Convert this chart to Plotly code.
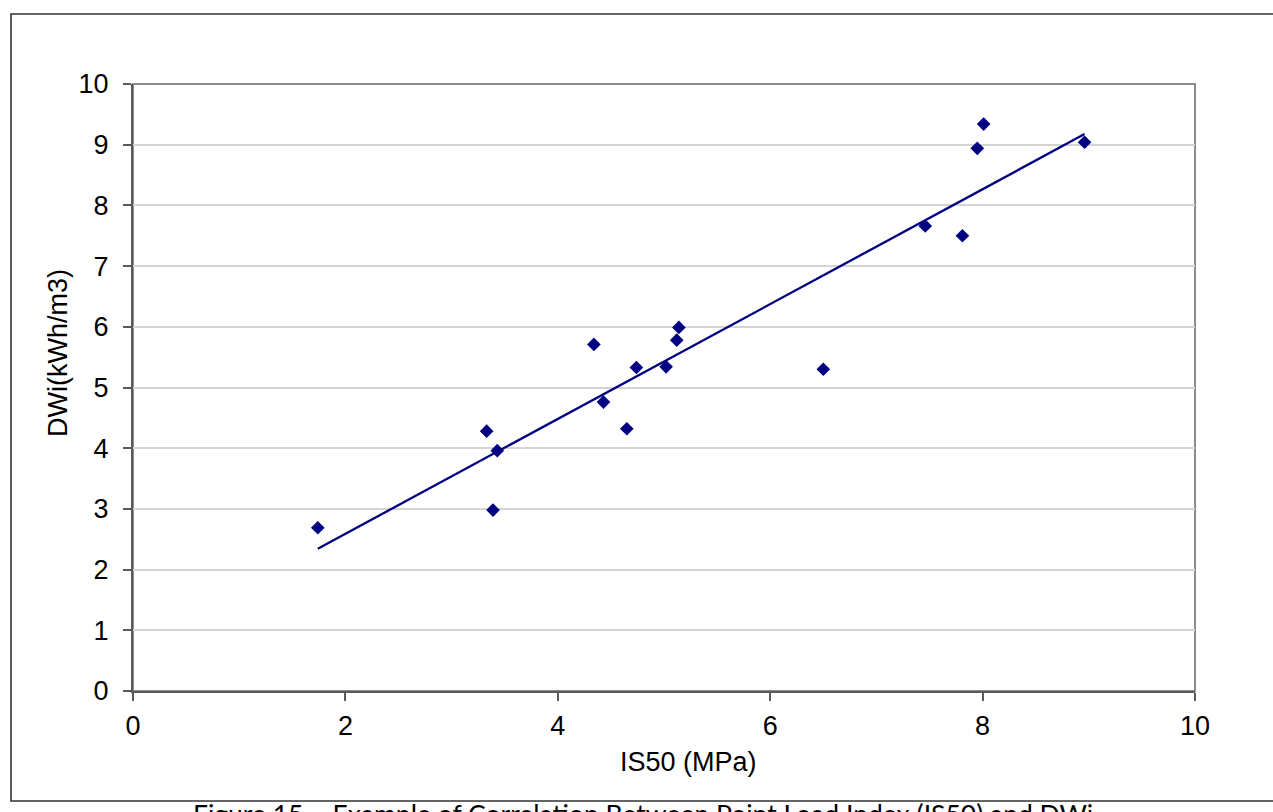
import numpy as np
import plotly.graph_objects as go

# Data
is50 = [1.74, 3.33, 3.39, 3.43, 4.34, 4.43, 4.65, 4.74, 5.02, 5.12, 5.14, 6.50, 7.46, 7.81, 7.95, 8.01, 8.96]
dwi = [2.69, 4.28, 2.98, 3.96, 5.71, 4.76, 4.32, 5.33, 5.34, 5.78, 5.99, 5.30, 7.66, 7.50, 8.94, 9.34, 9.04]

x_ticks = [0, 2, 4, 6, 8, 10]
y_ticks = [0, 1, 2, 3, 4, 5, 6, 7, 8, 9, 10]

x_title = "IS50 (MPa)"
y_title = "DWi(kWh/m3)"
caption = "Figure 15 – Example of Correlation Between Point Load Index (IS50) and DWi"

# Linear trendline (as in the Excel chart)
slope, intercept = np.polyfit(is50, dwi, 1)
trend_x = [min(is50), max(is50)]
trend_y = [slope * v + intercept for v in trend_x]

W, H = 1273, 812
L, R, T, B = 133, 78, 84, 121
PW, PH = W - L - R, H - T - B


def px(x):
    return (x - L) / PW


def py(y):
    return (H - B - y) / PH


NAVY = "#000080"
TICK_FONT = dict(family="Liberation Sans, Arial, sans-serif", size=27, color="#000000")

fig = go.Figure()
fig.add_trace(go.Scatter(
    x=is50, y=dwi, mode="markers",
    marker=dict(symbol="diamond", size=10.5, color=NAVY, line=dict(width=0)),
    showlegend=False, hoverinfo="skip",
))
fig.add_trace(go.Scatter(
    x=trend_x, y=trend_y, mode="lines",
    line=dict(color=NAVY, width=2.3),
    showlegend=False, hoverinfo="skip",
))

fig.update_layout(
    width=W, height=H,
    margin=dict(l=L, r=R, t=T, b=B, pad=0),
    paper_bgcolor="white", plot_bgcolor="white",
    showlegend=False,
    xaxis=dict(
        range=[0, 10], tickvals=x_ticks, ticktext=[str(v) for v in x_ticks],
        showgrid=False, zeroline=False,
        showline=True, linecolor="#595959", linewidth=2,
        ticks="outside", ticklen=8, tickwidth=2, tickcolor="#595959",
        tickfont=TICK_FONT, ticklabelstandoff=2,
    ),
    yaxis=dict(
        range=[0, 10], tickvals=y_ticks, ticktext=[str(v) for v in y_ticks],
        showgrid=True, gridcolor="#d4d4d4", gridwidth=1.5, zeroline=False,
        showline=True, linecolor="#595959", linewidth=2,
        ticks="outside", ticklen=8, tickwidth=2, tickcolor="#595959",
        tickfont=TICK_FONT, ticklabelstandoff=9,
    ),
    shapes=[
        # plot area frame (top / right in grey)
        dict(type="rect", xref="paper", yref="paper", x0=0, x1=1, y0=0, y1=1,
             line=dict(color="#8c8c8c", width=2), layer="below"),
        # outer chart border
        dict(type="rect", xref="paper", yref="paper",
             x0=px(11), x1=px(1290), y0=py(801), y1=py(14),
             line=dict(color="#333333", width=1.6), layer="below"),
    ],
    annotations=[
        dict(text=x_title, xref="paper", yref="paper", x=px(688), y=py(762),
             xanchor="center", yanchor="middle", showarrow=False,
             font=TICK_FONT),
        dict(text=y_title, xref="paper", yref="paper", x=px(58), y=py(353),
             xanchor="center", yanchor="middle", showarrow=False, textangle=-90,
             font=TICK_FONT),
        dict(text=caption, xref="paper", yref="paper", x=px(643), y=py(796),
             xanchor="center", yanchor="top", showarrow=False,
             font=dict(family="Lato, Carlito, sans-serif", size=26.5, color="#000000")),
    ],
)

fig.write_html("out.html")
